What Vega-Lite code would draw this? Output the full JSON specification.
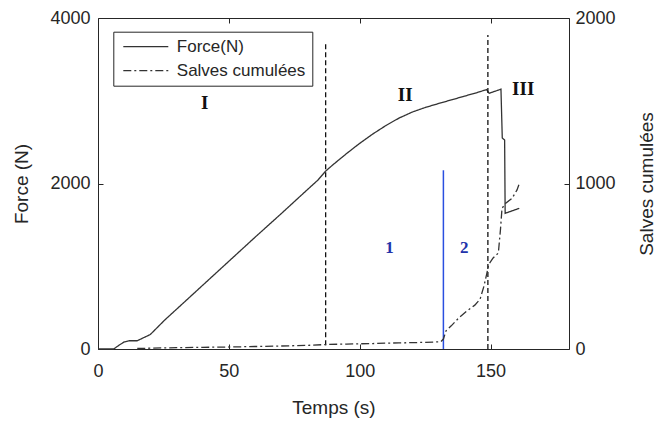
{
  "$schema": "https://vega.github.io/schema/vega-lite/v6.json",
  "width": 471,
  "height": 331,
  "autosize": {"type": "none"},
  "padding": {"left": 98, "top": 18, "right": 89, "bottom": 72},
  "background": "white",
  "config": {
    "view": {"stroke": "#262626", "strokeWidth": 1},
    "font": "Liberation Sans",
    "axis": {
      "domain": false,
      "grid": false,
      "tickSize": -5,
      "tickColor": "#262626",
      "tickWidth": 1,
      "labelColor": "#262626",
      "titleColor": "#262626",
      "labelFont": "Liberation Sans",
      "titleFont": "Liberation Sans",
      "labelFontSize": 18,
      "titleFontSize": 19,
      "titleFontWeight": "normal",
      "labelFlush": false,
      "format": "d"
    }
  },
  "datasets": {
    "force": [
      {"t": 0, "F": 0, "series": "Force(N)"},
      {"t": 6, "F": 0, "series": "Force(N)"},
      {"t": 8, "F": 45, "series": "Force(N)"},
      {"t": 10, "F": 85, "series": "Force(N)"},
      {"t": 12, "F": 100, "series": "Force(N)"},
      {"t": 15, "F": 100, "series": "Force(N)"},
      {"t": 17, "F": 130, "series": "Force(N)"},
      {"t": 20, "F": 175, "series": "Force(N)"},
      {"t": 25.5, "F": 350, "series": "Force(N)"},
      {"t": 30, "F": 480, "series": "Force(N)"},
      {"t": 40, "F": 770, "series": "Force(N)"},
      {"t": 50, "F": 1060, "series": "Force(N)"},
      {"t": 60, "F": 1350, "series": "Force(N)"},
      {"t": 70, "F": 1635, "series": "Force(N)"},
      {"t": 80, "F": 1925, "series": "Force(N)"},
      {"t": 84, "F": 2040, "series": "Force(N)"},
      {"t": 87, "F": 2150, "series": "Force(N)"},
      {"t": 90, "F": 2232, "series": "Force(N)"},
      {"t": 95, "F": 2362, "series": "Force(N)"},
      {"t": 100, "F": 2485, "series": "Force(N)"},
      {"t": 105, "F": 2598, "series": "Force(N)"},
      {"t": 110, "F": 2700, "series": "Force(N)"},
      {"t": 115, "F": 2790, "series": "Force(N)"},
      {"t": 120, "F": 2862, "series": "Force(N)"},
      {"t": 125, "F": 2918, "series": "Force(N)"},
      {"t": 130, "F": 2965, "series": "Force(N)"},
      {"t": 135, "F": 3010, "series": "Force(N)"},
      {"t": 140, "F": 3055, "series": "Force(N)"},
      {"t": 145, "F": 3100, "series": "Force(N)"},
      {"t": 148.5, "F": 3135, "series": "Force(N)"},
      {"t": 149.5, "F": 3090, "series": "Force(N)"},
      {"t": 154, "F": 3140, "series": "Force(N)"},
      {"t": 154.5, "F": 2550, "series": "Force(N)"},
      {"t": 155.4, "F": 2525, "series": "Force(N)"},
      {"t": 155.6, "F": 1640, "series": "Force(N)"},
      {"t": 161, "F": 1700, "series": "Force(N)"}
    ],
    "salves": [
      {"t": 15, "S": 3, "series": "Salves cumulées"},
      {"t": 20, "S": 5, "series": "Salves cumulées"},
      {"t": 30, "S": 8, "series": "Salves cumulées"},
      {"t": 40, "S": 10, "series": "Salves cumulées"},
      {"t": 50, "S": 12, "series": "Salves cumulées"},
      {"t": 60, "S": 15, "series": "Salves cumulées"},
      {"t": 70, "S": 18, "series": "Salves cumulées"},
      {"t": 80, "S": 22, "series": "Salves cumulées"},
      {"t": 87, "S": 27, "series": "Salves cumulées"},
      {"t": 95, "S": 30, "series": "Salves cumulées"},
      {"t": 105, "S": 33, "series": "Salves cumulées"},
      {"t": 115, "S": 37, "series": "Salves cumulées"},
      {"t": 125, "S": 40, "series": "Salves cumulées"},
      {"t": 131, "S": 44, "series": "Salves cumulées"},
      {"t": 132, "S": 60, "series": "Salves cumulées"},
      {"t": 133, "S": 110, "series": "Salves cumulées"},
      {"t": 135, "S": 140, "series": "Salves cumulées"},
      {"t": 138, "S": 190, "series": "Salves cumulées"},
      {"t": 141, "S": 230, "series": "Salves cumulées"},
      {"t": 144, "S": 265, "series": "Salves cumulées"},
      {"t": 146, "S": 300, "series": "Salves cumulées"},
      {"t": 147.5, "S": 380, "series": "Salves cumulées"},
      {"t": 148.5, "S": 450, "series": "Salves cumulées"},
      {"t": 149.3, "S": 510, "series": "Salves cumulées"},
      {"t": 151, "S": 550, "series": "Salves cumulées"},
      {"t": 153, "S": 580, "series": "Salves cumulées"},
      {"t": 153.8, "S": 720, "series": "Salves cumulées"},
      {"t": 154.4, "S": 850, "series": "Salves cumulées"},
      {"t": 155.7, "S": 880, "series": "Salves cumulées"},
      {"t": 158.2, "S": 910, "series": "Salves cumulées"},
      {"t": 160.1, "S": 960, "series": "Salves cumulées"},
      {"t": 161, "S": 1000, "series": "Salves cumulées"}
    ],
    "vlines": [
      {"t": 87, "F": 45, "F2": 3700},
      {"t": 149, "F": 0, "F2": 3795}
    ],
    "blue": [
      {"t": 132, "F": 0, "F2": 2160}
    ],
    "phases": [
      {"t": 40.8, "F": 2973, "label": "I"},
      {"t": 117.4, "F": 3069, "label": "II"},
      {"t": 162.5, "F": 3138, "label": "III"}
    ],
    "zones": [
      {"t": 111.4, "F": 1217, "label": "1"},
      {"t": 140, "F": 1217, "label": "2"}
    ]
  },
  "layer": [
    {
      "encoding": {
        "x": {
          "field": "t", "type": "quantitative",
          "scale": {"domain": [0, 180], "nice": false, "zero": false},
          "axis": {"orient": "bottom", "values": [0, 50, 100, 150], "title": "Temps (s)", "labelPadding": 18, "titleX": 235.5, "titleY": 58, "titleBaseline": "middle", "titleAlign": "center"}
        },
        "y": {
          "field": "F", "type": "quantitative",
          "scale": {"domain": [0, 4000], "nice": false},
          "axis": {"orient": "left", "values": [0, 2000, 4000], "title": "Force (N)", "labelPadding": 13, "titleX": -77, "titleY": 165.5, "titleAngle": -90, "titleBaseline": "middle", "titleAlign": "center"}
        }
      },
      "layer": [
        {
          "data": {"name": "force"},
          "mark": {"type": "line", "strokeWidth": 1.3},
          "encoding": {
            "color": {
              "field": "series", "type": "nominal",
              "scale": {"domain": ["Force(N)", "Salves cumulées"], "range": ["#333333", "#333333"]},
              "legend": {"orient": "none", "legendX": 15.3, "legendY": 13.7, "title": null, "symbolType": "M-1,0H8", "symbolSize": 100, "symbolStrokeWidth": 1.3, "labelFontSize": 17, "labelFont": "Liberation Sans", "labelColor": "#262626", "labelOffset": 40, "padding": 6.5, "rowPadding": 6, "strokeColor": "#262626", "fillColor": "white"}
            },
            "strokeDash": {
              "field": "series", "type": "nominal",
              "scale": {"domain": ["Force(N)", "Salves cumulées"], "range": [[1, 0], [8, 3, 2, 3]]},
              "legend": {"orient": "none", "legendX": 15.3, "legendY": 13.7, "title": null, "symbolType": "M-1,0H8", "symbolSize": 100, "symbolStrokeWidth": 1.3, "labelFontSize": 17, "labelFont": "Liberation Sans", "labelColor": "#262626", "labelOffset": 40, "padding": 6.5, "rowPadding": 6, "strokeColor": "#262626", "fillColor": "white"}
            }
          }
        },
        {
          "data": {"name": "vlines"},
          "mark": {"type": "rule", "strokeDash": [5, 3], "strokeWidth": 1.3, "color": "#111111"},
          "encoding": {
            "y2": {"field": "F2"}
          }
        },
        {
          "data": {"name": "blue"},
          "mark": {"type": "rule", "strokeWidth": 1.5, "color": "#2a4fe0"},
          "encoding": {
            "y2": {"field": "F2"}
          }
        },
        {
          "data": {"name": "phases"},
          "mark": {"type": "text", "font": "Liberation Serif", "fontWeight": "bold", "fontSize": 19, "color": "#111111", "align": "center", "baseline": "middle"},
          "encoding": {
            "text": {"field": "label"}
          }
        },
        {
          "data": {"name": "zones"},
          "mark": {"type": "text", "font": "Liberation Serif", "fontWeight": "bold", "fontSize": 17, "color": "#2233aa", "align": "center", "baseline": "middle"},
          "encoding": {
            "text": {"field": "label"}
          }
        }
      ]
    },
    {
      "data": {"name": "salves"},
      "mark": {"type": "line", "strokeWidth": 1.3},
      "encoding": {
        "x": {
          "field": "t", "type": "quantitative",
          "scale": {"domain": [0, 180], "nice": false, "zero": false},
          "axis": {"orient": "top", "values": [50, 100, 150], "labels": false, "title": null}
        },
        "y": {
          "field": "S", "type": "quantitative",
          "scale": {"domain": [0, 2000], "nice": false},
          "axis": {"orient": "right", "values": [0, 1000, 2000], "title": "Salves cumulées", "labelPadding": 11, "titleX": 77, "titleY": 165.5, "titleAngle": -90, "titleBaseline": "middle", "titleAlign": "center"}
        },
        "color": {"field": "series", "type": "nominal"},
        "strokeDash": {"field": "series", "type": "nominal"}
      }
    }
  ],
  "resolve": {"scale": {"x": "independent", "y": "independent"}}
}
